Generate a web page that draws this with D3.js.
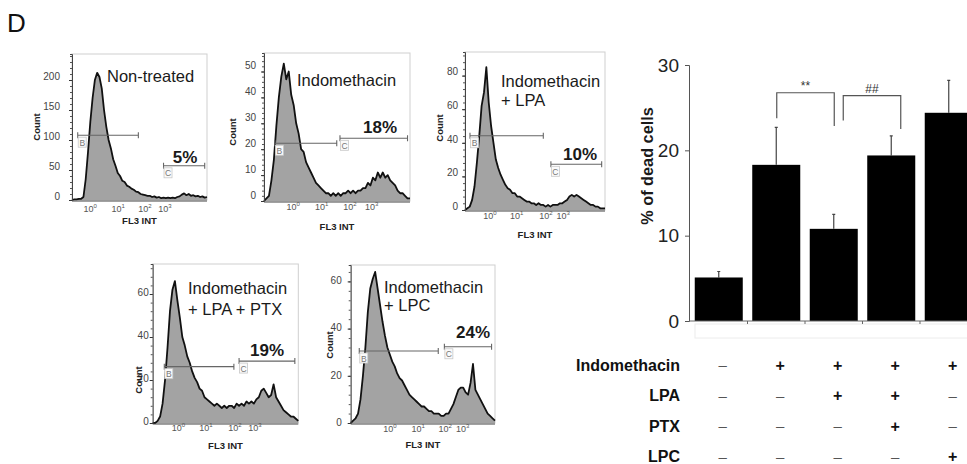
<!DOCTYPE html>
<html>
<head>
<meta charset="utf-8">
<script src="https://cdn.jsdelivr.net/npm/d3@7"></script>
<style>
  body { margin: 0; background: #fff; }
  svg { display: block; font-family: "Liberation Sans", Arial, sans-serif; }
</style>
</head>
<body>
<div id="figure"></div>
<script>
// ---- flow cytometry histograms: counts per FL3 channel (60 channels) ----
const nonTreated = [0,1,1,2,2,5,35,80,130,170,200,212,205,186,150,122,100,86,68,57,45,40,32,30,24,22,19,17,14,13,10,9,8,7,7,5,6,4,5,3,4,3,4,3,4,3,5,6,9,11,8,10,7,8,6,7,5,6,4,5];
const indomethacin = [0,1,2,8,16,29,40,48,53,47,50,41,37,30,26,20,19,15,13,11,9,7,6,5,4,3,3,2,3,2,3,2,3,3,4,3,4,3,4,4,5,5,7,6,9,8,11,9,11,9,10,8,7,6,4,3,3,2,1,1];
const indoLpa = [0,1,2,6,14,28,44,62,70,85,64,50,40,30,25,21,18,15,13,12,10,10,8,8,7,6,5,5,4,4,3,4,3,3,2,3,2,3,3,3,4,4,5,6,8,9,8,9,8,7,6,5,4,3,3,2,2,1,1,1];
const indoLpaPtx = [0,0,1,3,9,20,35,52,62,66,57,49,40,36,31,28,24,21,19,16,15,12,11,10,9,8,9,8,7,8,7,8,8,7,9,8,9,8,10,9,10,9,11,12,15,16,14,12,13,18,12,10,8,6,5,4,3,3,2,1];
const indoLpc = [0,1,2,4,10,20,32,47,57,61,64,57,50,43,37,32,29,26,24,21,19,18,16,14,12,11,10,9,8,7,7,6,5,5,4,4,4,3,3,4,4,6,8,11,14,15,15,13,12,17,25,14,12,10,8,6,4,3,2,1];

const titles = [["Non-treated"], ["Indomethacin"], ["Indomethacin", "+ LPA"], ["Indomethacin", "+ LPA + PTX"], ["Indomethacin", "+ LPC"]];
const deadPct = ["5%", "18%", "10%", "19%", "24%"];
const countTicks = [[0, 50, 100, 150, 200], [0, 10, 20, 30, 40, 50], [0, 20, 40, 60, 80], [0, 20, 40, 60], [0, 20, 40, 60]];
// decade label positions, in channel units
const decadeTicks = [[7.9, 20.2, 31.9, 40.6], [11.8, 23.3, 34.7, 43.5], [10.5, 21.8, 34.1, 41.4], [10.4, 21.6, 33.3, 41.4], [16, 27.6, 38.6, 45.8]];
// gates: [from channel, to channel, count level]
const gateB = [[2.5, 29, 108], [4.4, 29.4, 22.3], [2.1, 33, 44.2], [4.7, 32.9, 26.2], [3.5, 35.8, 30.5]];
const gateC = [[40, 58, 57], [30.7, 58, 24.2], [36.2, 57.6, 27.2], [35, 57.6, 28.8], [38.3, 57.6, 32.3]];

// ---- bar chart ----
const groups = ["ctrl", "indo", "indo+LPA", "indo+LPA+PTX", "indo+LPC"];
const meanDead = [5.1, 18.3, 10.8, 19.4, 24.4];
const semDead = [0.7, 4.4, 1.7, 2.3, 3.8];
const treatmentNames = ["Indomethacin", "LPA", "PTX", "LPC"];
const treatmentGrid = [[0, 1, 1, 1, 1], [0, 0, 1, 1, 0], [0, 0, 0, 1, 0], [0, 0, 0, 0, 1]];
const comparisons = [
    {from: 1, to: 2, label: "**", top: 26.75, legs: [23.75, 22.85]},
    {from: 2, to: 3, label: "##", top: 26.4, legs: [23.5, 22.5]}
];

// ---- layout ----
const width = 967;
const height = 464;
const channels = 60;
const panels = [
    {x0: 72, x1: 207, top: 54, base: 200, k: 0.6, gap: 12, tickDy: -4, xLabY: 208.5, fl3Y: 220.5, countX: 37, countY: 127, titleX: 107, titleY: [82], pctX: 185, pctY: 163},
    {x0: 264, x1: 410, top: 53, base: 201, k: 2.59, gap: 8, tickDy: -6, xLabY: 206, fl3Y: 226, countX: 233, countY: 132, titleX: 297, titleY: [86], pctX: 380, pctY: 133},
    {x0: 465, x1: 605, top: 52, base: 210, k: 1.68, gap: 7, tickDy: -4, xLabY: 215, fl3Y: 234, countX: 440, countY: 128, titleX: 501, titleY: [87, 106], pctX: 580, pctY: 159.5},
    {x0: 152.7, x1: 298.3, top: 264, base: 423, k: 2.15, gap: 4, tickDy: -2, xLabY: 427, fl3Y: 445, countX: 139, countY: 380, titleX: 188, titleY: [294, 315], pctX: 267, pctY: 355.5},
    {x0: 350.7, x1: 495, top: 265, base: 423, k: 2.36, gap: 9, tickDy: -1, xLabY: 428, fl3Y: 444, countX: 330, countY: 345, titleX: 384, titleY: [293, 311], pctX: 473, pctY: 338}
];
const histData = [nonTreated, indomethacin, indoLpa, indoLpaPtx, indoLpc];

const svg = d3.select("#figure")
    .append("svg")
    .attr("width", width)
    .attr("height", height);

svg.append("text")
    .attr("x", 7)
    .attr("y", 32)
    .attr("font-size", 26)
    .attr("fill", "#111")
    .text("D");

const drawGate = (g, x, y, gate, letter) => {
    const [from, to, level] = gate;
    const gy = y(level);
    g.append("path")
        .attr("d", `M${x(from)},${gy - 3}V${gy + 3}M${x(from)},${gy}H${x(to)}M${x(to)},${gy - 3}V${gy + 3}`)
        .attr("fill", "none")
        .attr("stroke", "#666")
        .attr("stroke-width", 1.1);
    g.append("rect")
        .attr("x", x(from) + 0.5)
        .attr("y", gy + 2)
        .attr("width", 8)
        .attr("height", 10)
        .attr("fill", "#fafafa")
        .attr("stroke", "#c8c8c8")
        .attr("stroke-width", 0.8);
    g.append("text")
        .attr("x", x(from) + 4.5)
        .attr("y", gy + 10.5)
        .attr("text-anchor", "middle")
        .attr("font-size", 8.5)
        .attr("fill", "#777")
        .text(letter);
}

const drawHistogram = (i) => {
    const L = panels[i];
    const counts = histData[i];
    const g = svg.append("g");

    const x = d3.scaleLinear().domain([0, channels - 1]).range([L.x0, L.x1]);
    const y = d3.scaleLinear().domain([0, (L.base - L.top) / L.k]).range([L.base, L.top]);

    g.append("rect")
        .attr("x", L.x0)
        .attr("y", L.top)
        .attr("width", L.x1 - L.x0)
        .attr("height", L.base - L.top)
        .attr("fill", "none")
        .attr("stroke", "#cfcfcf");

    g.append("path")
        .datum(counts)
        .attr("fill", "#a3a3a3")
        .attr("d", d3.area().x((d, j) => x(j)).y0(y(0)).y1(d => y(d)));

    g.append("path")
        .datum(counts)
        .attr("fill", "none")
        .attr("stroke", "#111")
        .attr("stroke-width", 1.8)
        .attr("stroke-linejoin", "round")
        .attr("d", d3.line().x((d, j) => x(j)).y(d => y(d)));

    const ticks = countTicks[i];
    const minorStep = (ticks[1] - ticks[0]) / 5;
    g.append("g")
        .attr("transform", `translate(${L.x0}, 0)`)
        .call(d3.axisLeft(y).tickValues(d3.range(0, y.domain()[1], minorStep)).tickSize(2).tickFormat(""))
        .call(a => a.select(".domain").attr("stroke", "#444"))
        .call(a => a.selectAll(".tick line").attr("stroke", "#555"));

    g.append("g")
        .attr("transform", `translate(${L.x0}, 0)`)
        .call(d3.axisLeft(y).tickValues(ticks).tickSize(3).tickPadding(L.gap - 3))
        .call(a => a.select(".domain").remove())
        .call(a => a.selectAll(".tick line").attr("stroke", "#333"))
        .call(a => a.selectAll("text")
            .attr("y", L.tickDy)
            .attr("font-size", 10)
            .attr("font-family", "Liberation Sans, Arial, sans-serif")
            .attr("fill", "#444"));

    g.append("line")
        .attr("x1", L.x0).attr("x2", L.x1)
        .attr("y1", L.base + 1).attr("y2", L.base + 1)
        .attr("stroke", "#444");

    decadeTicks[i].forEach((v, e) => {
        const t = g.append("text")
            .attr("x", x(v))
            .attr("y", L.xLabY + 3.5)
            .attr("text-anchor", "middle")
            .attr("font-size", 9)
            .attr("fill", "#555");
        t.append("tspan").text("10");
        t.append("tspan").attr("dy", -4).attr("font-size", 6).text(e);
    });

    g.append("text")
        .attr("x", (L.x0 + L.x1) / 2)
        .attr("y", L.fl3Y + 3.5)
        .attr("text-anchor", "middle")
        .attr("font-size", 9.5)
        .attr("font-weight", "bold")
        .attr("fill", "#222")
        .text("FL3 INT");

    g.append("text")
        .attr("transform", `translate(${L.countX}, ${L.countY}) rotate(-90)`)
        .attr("dy", "0.35em")
        .attr("text-anchor", "middle")
        .attr("font-size", 9.5)
        .attr("font-weight", "bold")
        .attr("fill", "#222")
        .text("Count");

    drawGate(g, x, y, gateB[i], "B");
    drawGate(g, x, y, gateC[i], "C");

    titles[i].forEach((line, j) => {
        g.append("text")
            .attr("x", L.titleX)
            .attr("y", L.titleY[j])
            .attr("font-size", 16.5)
            .attr("fill", "#1a1a1a")
            .text(line);
    });

    g.append("text")
        .attr("x", L.pctX)
        .attr("y", L.pctY)
        .attr("text-anchor", "middle")
        .attr("font-size", 17)
        .attr("font-weight", "bold")
        .attr("fill", "#1a1a1a")
        .text(deadPct[i]);
}

d3.range(panels.length).forEach(drawHistogram);

// ---- bar chart ----
const bar = {left: 689, right: 978.5, top: 65, bottom: 321};
const xBar = d3.scaleBand()
    .domain(d3.range(groups.length))
    .range([bar.left, bar.right])
    .paddingInner(0.165)
    .paddingOuter(0.1);
const yBar = d3.scaleLinear().domain([0, 30]).range([bar.bottom, bar.top]);
const cx = i => xBar(i) + xBar.bandwidth() / 2;

const chart = svg.append("g");

chart.append("rect")
    .attr("x", 695)
    .attr("y", 324)
    .attr("width", 290)
    .attr("height", 14)
    .attr("fill", "none")
    .attr("stroke", "#ececec");

chart.selectAll(".err")
    .data(meanDead)
    .join("path")
    .attr("class", "err")
    .attr("d", (d, i) => `M${cx(i)},${yBar(d)}V${yBar(d + semDead[i])}M${cx(i) - 1.5},${yBar(d + semDead[i])}H${cx(i) + 1.5}`)
    .attr("stroke", "#444")
    .attr("stroke-width", 1.2);

chart.selectAll(".bar")
    .data(meanDead)
    .join("rect")
    .attr("class", "bar")
    .attr("x", (d, i) => xBar(i))
    .attr("y", d => yBar(d))
    .attr("width", xBar.bandwidth())
    .attr("height", d => yBar(0) - yBar(d))
    .attr("fill", "#000");

chart.append("g")
    .attr("transform", `translate(${bar.left}, 0)`)
    .call(d3.axisLeft(yBar).tickValues([0, 10, 20, 30]).tickSize(4).tickPadding(6))
    .call(a => a.selectAll("line, path").attr("stroke", "#555"))
    .call(a => a.selectAll("text")
        .attr("font-size", 19)
        .attr("font-family", "Liberation Sans, Arial, sans-serif")
        .attr("fill", "#222"));

chart.append("line")
    .attr("x1", bar.left).attr("x2", width)
    .attr("y1", bar.bottom).attr("y2", bar.bottom)
    .attr("stroke", "#666");

chart.selectAll(".sep")
    .data(d3.range(1, groups.length))
    .join("line")
    .attr("class", "sep")
    .attr("x1", i => xBar(i) - xBar.step() * 0.165 / 2)
    .attr("x2", i => xBar(i) - xBar.step() * 0.165 / 2)
    .attr("y1", bar.bottom)
    .attr("y2", bar.bottom + 3)
    .attr("stroke", "#666");

chart.append("text")
    .attr("transform", `translate(647, 166) rotate(-90)`)
    .attr("dy", "0.35em")
    .attr("text-anchor", "middle")
    .attr("font-size", 16.3)
    .attr("font-weight", "bold")
    .attr("fill", "#1a1a1a")
    .text("% of dead cells");

const bracketShift = [0.5, 9.5];
comparisons.forEach((c, j) => {
    const xa = cx(c.from) + bracketShift[j];
    const xb = cx(c.to) + bracketShift[j];
    chart.append("path")
        .attr("d", `M${xa},${yBar(c.legs[0])}V${yBar(c.top)}H${xb}V${yBar(c.legs[1])}`)
        .attr("fill", "none")
        .attr("stroke", "#555")
        .attr("stroke-width", 1.2);
    chart.append("text")
        .attr("x", (xa + xb) / 2)
        .attr("y", yBar(c.top) - 3)
        .attr("text-anchor", "middle")
        .attr("font-size", 12)
        .attr("fill", "#333")
        .text(c.label);
});

// ---- treatment table ----
const rowY = d3.scalePoint().domain(treatmentNames).range([365, 456.7]);
treatmentNames.forEach((name, r) => {
    chart.append("text")
        .attr("x", 680)
        .attr("y", rowY(name))
        .attr("dy", "0.35em")
        .attr("text-anchor", "end")
        .attr("font-size", 16)
        .attr("font-weight", "bold")
        .attr("fill", "#111")
        .text(name);
    treatmentGrid[r].forEach((on, c) => {
        chart.append("text")
            .attr("x", cx(c) + 4)
            .attr("y", rowY(name))
            .attr("dy", "0.35em")
            .attr("text-anchor", "middle")
            .attr("font-size", on ? 16 : 15)
            .attr("font-weight", on ? "bold" : "normal")
            .attr("fill", on ? "#111" : "#555")
            .text(on ? "+" : "\u2013");
    });
});
</script>
</body>
</html>
